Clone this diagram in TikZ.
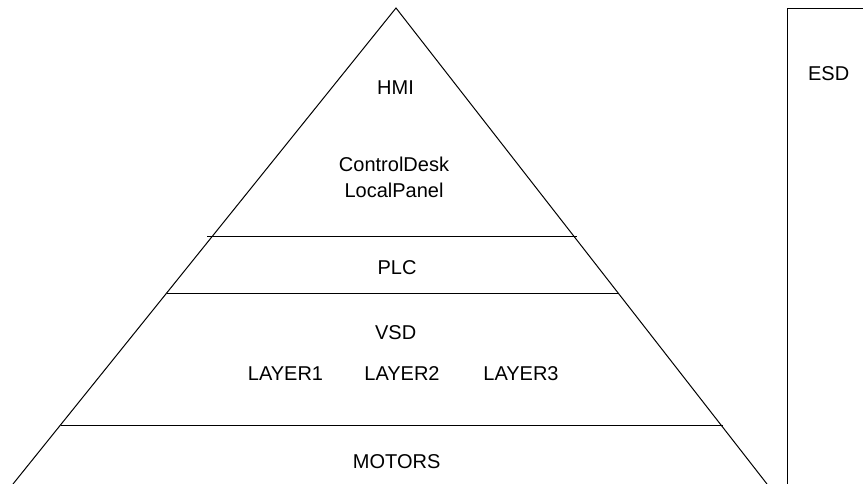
\documentclass[tikz,border=0pt]{standalone}
\usepackage{fontspec}
\setmainfont{Liberation Sans}
\begin{document}
\begin{tikzpicture}[x=1pt,y=-1pt,
  lbl/.style={anchor=base,inner sep=0pt,font=\fontsize{20}{26}\selectfont},
  edge/.style={line width=1pt,black}]
\useasboundingbox (0,0) rectangle (863,484);
\clip (0,0) rectangle (863,484);
% pyramid
\draw[edge,line join=miter] (13,484) -- (396,8) -- (767,484);
\draw[edge] (207,237) -- (577,237);
\draw[edge] (167,293.5) -- (618,293.5);
\draw[edge] (61,425) -- (723,425);
% ESD box
\draw[edge] (880,500) -- (787.5,500) -- (787.5,8.5) -- (880,8.5);
% labels
\node[lbl] (hmi) at (395.5,95) {HMI};
\node[lbl] (cd) at (394,171.7) {ControlDesk};
\node[lbl] (lp) at (394,198) {LocalPanel};
\node[lbl] (plc) at (397,274) {PLC};
\node[lbl] (vsd) at (395.7,339) {VSD};
\node[lbl] (l1) at (285.5,380) {LAYER1};
\node[lbl] (l2) at (402,380) {LAYER2};
\node[lbl] (l3) at (521,380) {LAYER3};
\node[lbl] (mot) at (396.7,468.3) {MOTORS};
\node[lbl] (esd) at (828.7,80.7) {ESD};
\end{tikzpicture}
\end{document}
